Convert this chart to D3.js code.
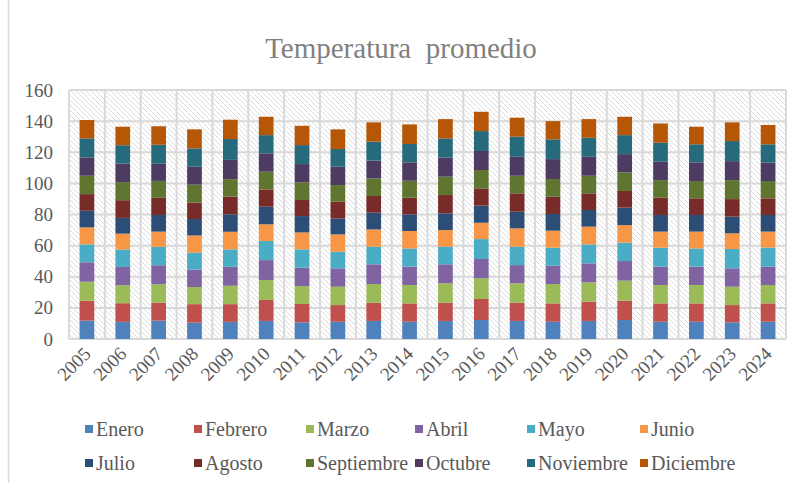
<!DOCTYPE html>
<html><head><meta charset="utf-8">
<script src="https://cdn.jsdelivr.net/npm/d3@7"></script>
<style>html,body{margin:0;padding:0;background:#fff;}svg{display:block;}</style>
</head><body>
<script>
const years = ["2005","2006","2007","2008","2009","2010","2011","2012","2013","2014","2015","2016","2017","2018","2019","2020","2021","2022","2023","2024"];
const months = ["Enero","Febrero","Marzo","Abril","Mayo","Junio","Julio","Agosto","Septiembre","Octubre","Noviembre","Diciembre"];
const enero      = [11.8,11.0,11.8,10.5,11.0,11.6,10.7,11.1,11.6,11.1,11.6,12.2,11.6,11.1,11.6,12.2,11.1,11.1,10.7,11.1];
const febrero    = [12.8,12.0,11.6,11.9,11.4,13.5,11.8,10.7,11.7,11.8,11.7,13.5,11.7,11.8,12.4,12.4,11.8,11.8,11.1,11.8];
const marzo      = [12.2,11.5,11.8,11.0,11.8,12.8,11.5,11.8,12.0,11.8,12.5,13.3,12.5,12.4,12.4,12.9,11.8,11.8,11.8,11.8];
const abril      = [12.5,11.8,12.2,11.2,12.2,12.8,11.8,11.8,12.7,11.8,12.2,12.4,11.7,11.8,12.2,12.6,11.8,11.8,11.8,11.8];
const mayo       = [11.5,11.2,11.8,10.9,11.2,12.3,11.8,10.7,11.3,11.7,11.3,12.8,11.8,11.6,12.2,11.8,12.2,11.7,12.4,12.2];
const junio      = [10.9,10.2,9.8,11.0,11.3,10.7,10.9,11.1,11.1,11.2,10.7,10.5,11.8,10.9,11.4,11.3,10.3,10.8,10.1,10.3];
const julio      = [10.7,10.1,10.7,10.6,11.2,11.3,10.5,10.3,10.8,10.7,10.7,11.0,10.7,10.7,10.7,11.2,10.7,10.7,10.7,10.7];
const agosto     = [10.7,11.4,11.0,10.6,11.4,11.1,10.3,10.7,10.7,10.7,11.8,11.1,11.8,11.1,10.7,10.7,11.1,10.7,11.3,10.7];
const septiembre = [11.8,11.6,10.9,11.5,11.2,11.4,11.3,10.7,11.3,10.9,11.8,11.8,11.3,11.4,11.3,12.0,11.3,11.1,12.2,11.1];
const octubre    = [11.8,11.9,11.0,11.5,12.4,11.8,11.8,11.8,11.4,11.8,12.2,12.2,12.2,12.8,12.2,11.7,11.8,12.0,12.2,11.8];
const noviembre  = [12.2,11.8,12.2,11.8,13.4,11.7,12.2,11.4,12.2,11.8,12.4,12.8,12.9,12.7,12.2,12.2,12.2,11.6,12.9,11.8];
const diciembre  = [11.8,11.9,11.9,12.2,12.4,11.8,12.4,12.6,12.4,12.6,12.4,12.4,12.2,11.7,12.0,11.8,12.4,11.3,12.0,12.4];
const yTicks = [0,20,40,60,80,100,120,140,160];
const colors = ["#4F81BD","#C0504D","#9BBB59","#8064A2","#4BACC6","#F79646","#2C4D75","#772C2A","#5F7530","#4D3B62","#276A7C","#B65708"];

const seriesArrays = [enero,febrero,marzo,abril,mayo,junio,julio,agosto,septiembre,octubre,noviembre,diciembre];
const table = years.map((y,i)=>{ const o={year:y}; months.forEach((m,j)=>o[m]=seriesArrays[j][i]); return o; });
const stacked = d3.stack().keys(months)(table);

const W=796,H=483;
const FONT="'Liberation Serif','Times New Roman',serif";
const svg = d3.select("body").append("svg").attr("width",W).attr("height",H);
svg.append("rect").attr("width",W).attr("height",H).attr("fill","#fff");
svg.append("line").attr("x1",8.5).attr("x2",8.5).attr("y1",0).attr("y2",H).attr("stroke","#d9d9d9").attr("stroke-width",1.5);

const defs = svg.append("defs");
const pat = defs.append("pattern").attr("id","hatch").attr("patternUnits","userSpaceOnUse").attr("width",5).attr("height",5);
pat.append("rect").attr("width",5).attr("height",5).attr("fill","#fff");
pat.append("path").attr("d","M-1,-1 L6,6 M-1,4 L1,6 M4,-1 L6,1").attr("stroke","#dcdcdc").attr("stroke-width",1);

const x = d3.scaleBand().domain(years).range([69,786]).paddingInner(0.59).paddingOuter(0.295);
const y = d3.scaleLinear().domain([0,160]).range([339,90]);

svg.append("rect").attr("x",69).attr("y",y(160)).attr("width",786-69).attr("height",y(0)-y(160)).attr("fill","url(#hatch)");

svg.append("g").selectAll("line").data(yTicks).join("line")
  .attr("x1",69).attr("x2",786).attr("y1",d=>y(d)).attr("y2",d=>y(d))
  .attr("stroke","#d9d9d9").attr("stroke-width",2);
const step = x.step();
const bounds = d3.range(years.length+1);
svg.append("g").selectAll("line").data(bounds).join("line")
  .attr("x1",i=>69+i*step).attr("x2",i=>69+i*step).attr("y1",y(160)).attr("y2",y(0))
  .attr("stroke","#d9d9d9").attr("stroke-width",2);

svg.append("g").selectAll("g").data(stacked).join("g").attr("fill",(d,i)=>colors[i])
  .selectAll("rect").data(d=>d).join("rect")
  .attr("x",d=>x(d.data.year)).attr("width",x.bandwidth())
  .attr("y",d=>y(d[1])).attr("height",d=>y(d[0])-y(d[1]));

const yAxis = d3.axisLeft(y).tickValues(yTicks).tickSize(0).tickPadding(16);
const gy = svg.append("g").attr("transform","translate(69,0)").call(yAxis);
gy.select(".domain").remove();
gy.selectAll("text").attr("font-family",FONT).attr("font-size",19).attr("fill","#595959");

const xAxis = d3.axisBottom(x).tickSize(0).tickPadding(0);
const gx = svg.append("g").attr("transform","translate(0,339)").call(xAxis);
gx.select(".domain").remove();
gx.selectAll("text").attr("font-family",FONT).attr("font-size",19).attr("fill","#595959")
  .attr("text-anchor","end").attr("dy",0).attr("transform","translate(5,16) rotate(-45)");

svg.append("text").attr("x",401).attr("y",58).attr("text-anchor","middle")
  .attr("font-family",FONT).attr("font-size",29).attr("fill","#808080")
  .style("white-space","pre").text("Temperatura  promedio");

const colX = [85,194,306,415,527,640];
const rowY = [429,463];
const lg = svg.append("g").selectAll("g").data(months).join("g")
  .attr("transform",(d,i)=>`translate(${colX[i%6]},${rowY[Math.floor(i/6)]})`);
lg.append("rect").attr("x",0).attr("y",-4).attr("width",8).attr("height",8).attr("fill",(d,i)=>colors[i]);
lg.append("text").attr("x",11).attr("y",0).attr("dy","0.35em")
  .attr("font-family",FONT).attr("font-size",20).attr("fill","#595959").text(d=>d);
</script>
</body></html>
